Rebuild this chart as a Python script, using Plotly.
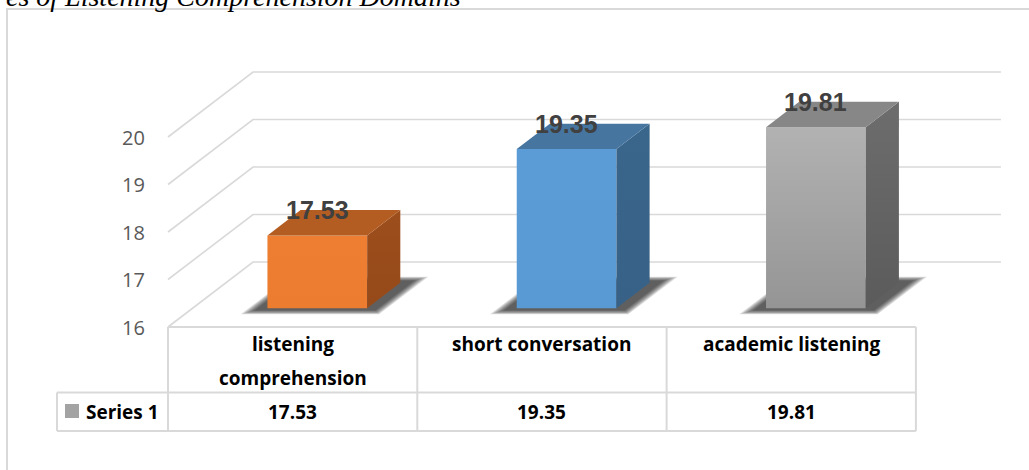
import plotly.graph_objects as go

# ---------------- data ----------------
categories = ["listening comprehension", "short conversation", "academic listening"]
values = [17.53, 19.35, 19.81]
series_name = "Series 1"
y_ticks = [16, 17, 18, 19, 20]
title_text = "es of Listening Comprehension Domains"

# ---------------- styling ----------------
front_colors = [("#EC7C30", "#EE7F32"), ("#5A9AD4", "#5C9CD6"), ("#959595", "#B2B2B2")]  # (bottom, top)
side_colors = [("#964A19", "#9C4E1C"), ("#376186", "#3B668B"), ("#5B5B5B", "#6D6D6D")]
top_colors = ["#B45D22", "#4675A0", "#878787"]
GRID = "#D9D9D9"

W, H = 1029, 470
X_LEFT_PX = 168.0      # left edge of category band (front)
COL_PX = 249.3         # width of one category
Y0_PX = 327.0          # pixel of base value at front
UNIT_PX = 47.5         # pixels per value unit
DEPTH_DX_PX, DEPTH_DY_PX = 85.0, 65.0

base = y_ticks[0]
x_range = [-0.5 - X_LEFT_PX / COL_PX, -0.5 + (W - X_LEFT_PX) / COL_PX]
y_range = [base - (H - Y0_PX) / UNIT_PX, base + Y0_PX / UNIT_PX]
DX = DEPTH_DX_PX / COL_PX
DY = DEPTH_DY_PX / UNIT_PX


def P(x, v, d):
    return x + d * DX, v + d * DY


def px_x(p):
    return -0.5 + (p - X_LEFT_PX) / COL_PX


def py(p):
    return 1 - p / H


HALF = 0.2
D0, D1 = 0.29, 0.68

fig = go.Figure()


def poly(pts, **kw):
    xs = [p[0] for p in pts] + [pts[0][0]]
    ys = [p[1] for p in pts] + [pts[0][1]]
    fig.add_trace(go.Scatter(x=xs, y=ys, mode="lines", fill="toself",
                             line=dict(width=0), hoverinfo="skip", showlegend=False, **kw))


# soft shadows on the floor
for i, v in enumerate(values):
    xl, xr = i - HALF, i + HALF
    n = 7
    for k in range(n):
        f = (n - 1 - k) / (n - 1)
        ex = 0.035 * f
        ed = 0.06 * f
        a, b = xl - 0.04 - ex, xr + 0.045 + ex
        d_a, d_b = D0 - 0.035 - ed, D1 + 0.035 + ed
        poly([P(a, base, d_a), P(b, base, d_a), P(b, base, d_b), P(a, base, d_b)],
             fillcolor="rgba(0,0,0,0.13)")

# bars (front, side, top faces)
for i, v in enumerate(values):
    xl, xr = i - HALF, i + HALF
    poly([P(xl, base, D0), P(xr, base, D0), P(xr, v, D0), P(xl, v, D0)],
         fillgradient=dict(type="vertical", colorscale=[[0, front_colors[i][0]], [1, front_colors[i][1]]]))
    poly([P(xr, base, D0), P(xr, base, D1), P(xr, v, D1), P(xr, v, D0)],
         fillgradient=dict(type="vertical", colorscale=[[0, side_colors[i][0]], [1, side_colors[i][1]]]))
    poly([P(xl, v, D0), P(xr, v, D0), P(xr, v, D1), P(xl, v, D1)], fillcolor=top_colors[i])

shapes = []
# gridlines on side and back walls
n_cat = len(categories)
for t in y_ticks:
    p0 = P(-0.5, t, 0)
    p1 = P(-0.5, t, 1)
    p2 = P(n_cat - 0.5, t, 1)
    shapes.append(dict(type="path", xref="x", yref="y", layer="below",
                       path=f"M {p0[0]},{p0[1]} L {p1[0]},{p1[1]} L {p2[0]},{p2[1]}",
                       line=dict(color=GRID, width=1.6)))

# data table
T_TOP, T_MID, T_BOT = 327, 392.5, 431
T_LEFT = px_x(57)
tl = dict(color=GRID, width=2)
shapes.append(dict(type="line", xref="x", yref="paper", x0=-0.5, x1=n_cat - 0.5, y0=py(T_TOP), y1=py(T_TOP), line=tl))
for yy in (T_MID, T_BOT):
    shapes.append(dict(type="line", xref="x", yref="paper", x0=T_LEFT, x1=n_cat - 0.5, y0=py(yy), y1=py(yy), line=tl))
shapes.append(dict(type="line", xref="x", yref="paper", x0=T_LEFT, x1=T_LEFT, y0=py(T_MID), y1=py(T_BOT), line=tl))
for c in range(n_cat + 1):
    xx = c - 0.5
    shapes.append(dict(type="line", xref="x", yref="paper", x0=xx, x1=xx, y0=py(T_TOP), y1=py(T_BOT), line=tl))
# legend key
shapes.append(dict(type="rect", xref="paper", yref="paper", x0=65 / W, x1=79 / W, y0=py(418), y1=py(404),
                   fillcolor="#A3A3A3", line=dict(width=0)))
# chart outer border
shapes.append(dict(type="path", xref="paper", yref="paper",
                   path=f"M {7 / W},{-0.01} L {7 / W},{py(9)} L {1.01},{py(9)}",
                   line=dict(color=GRID, width=2)))

annotations = []
# y tick labels
for t in y_ticks:
    annotations.append(dict(xref="paper", yref="y", x=147 / W, y=t, text=str(t), showarrow=False,
                            xanchor="right", yanchor="middle",
                            font=dict(family="Open Sans", size=20, color="#595959")))
# data labels
for i, v in enumerate(values):
    lx, _ = P(i, v, D0)
    _, ly = P(i, v, D1)
    annotations.append(dict(xref="x", yref="y", x=lx, y=ly, text=f"{v:.2f}", showarrow=False,
                            xanchor="center", yanchor="middle",
                            font=dict(family="Liberation Sans", size=25, color="#404040", weight="bold")))
# table header and values
tfont = dict(family="Open Sans", size=19, color="#000000", weight="bold")
for i, cat in enumerate(categories):
    lines = cat.split(" ") if len(cat) > 20 else [cat]
    for j, ln in enumerate(lines):
        annotations.append(dict(xref="x", yref="paper", x=i, y=py(344 + 34 * j), text=ln, showarrow=False,
                                xanchor="center", yanchor="middle", font=tfont))
    annotations.append(dict(xref="x", yref="paper", x=i, y=py(412), text=f"{values[i]:.2f}", showarrow=False,
                            xanchor="center", yanchor="middle", font=tfont))
annotations.append(dict(xref="paper", yref="paper", x=84 / W, y=py(412), text=series_name, showarrow=False,
                        xanchor="left", yanchor="middle", font=tfont))
# caption, cut off at the top edge as in the reference
annotations.append(dict(xref="paper", yref="paper", x=463 / W, y=py(14), text=f"<i>{title_text}</i>",
                        showarrow=False, xanchor="right", yanchor="bottom",
                        font=dict(family="Liberation Serif", size=28, color="#000000")))

fig.update_layout(
    width=W, height=H,
    margin=dict(l=0, r=0, t=0, b=0),
    paper_bgcolor="white", plot_bgcolor="white",
    xaxis=dict(range=x_range, visible=False, fixedrange=True),
    yaxis=dict(range=y_range, visible=False, fixedrange=True),
    shapes=shapes, annotations=annotations, showlegend=False,
)

fig.write_html("out.html")
